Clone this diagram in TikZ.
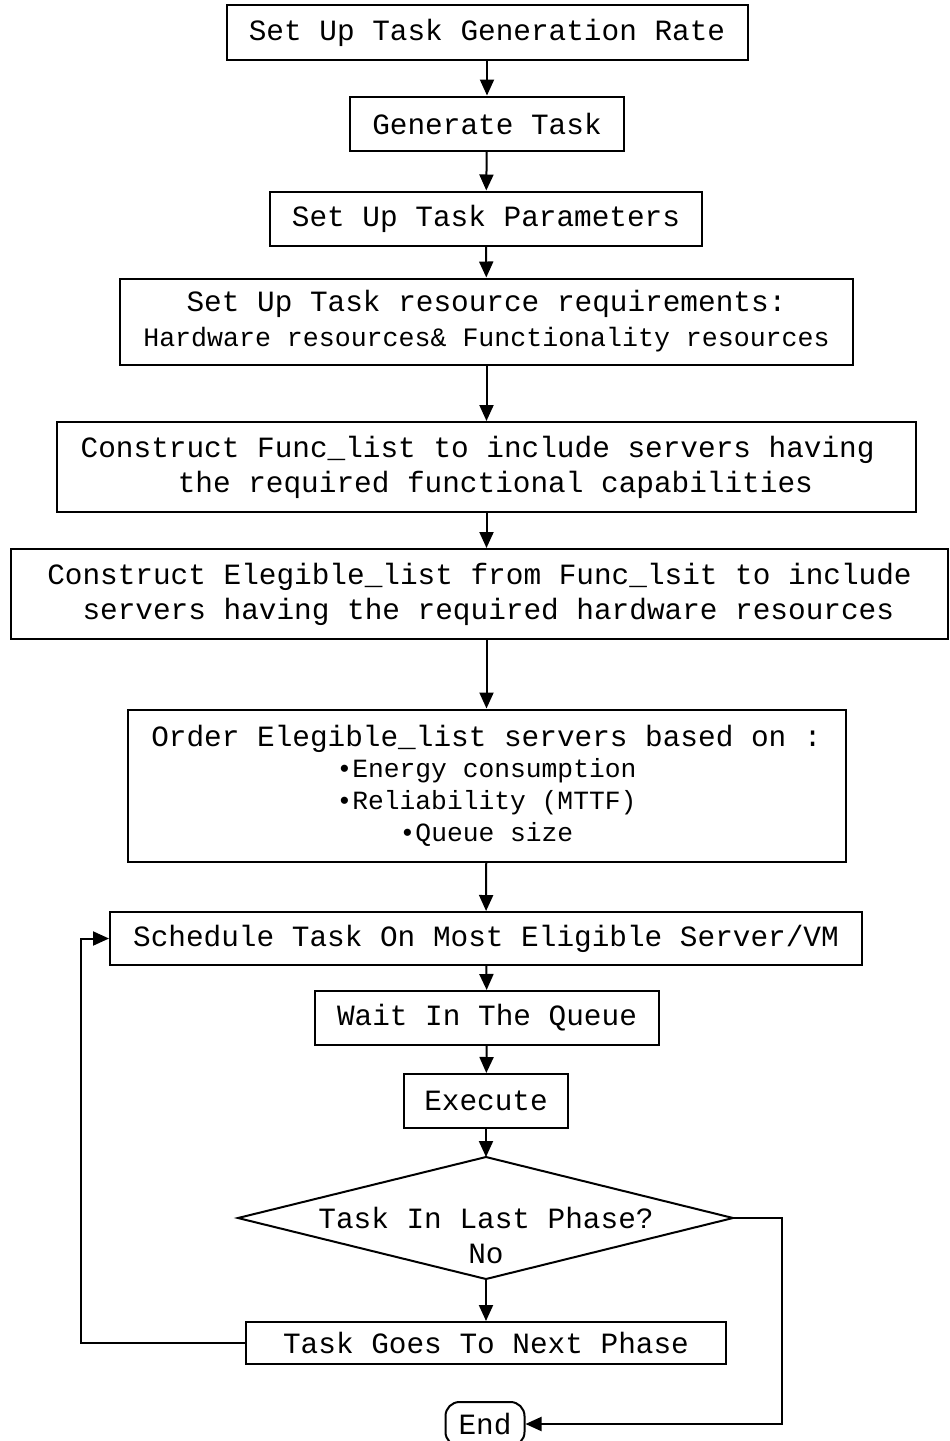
\documentclass[tikz,border=0pt]{standalone}
\usepackage{fontspec}
\setmonofont{Liberation Mono}
\usetikzlibrary{arrows.meta}
\newcommand\mainfnt{\ttfamily\fontsize{29.4}{35}\selectfont}
\newcommand\subfnt{\ttfamily\fontsize{26.6}{35}\selectfont}
\newcommand\listfnt{\ttfamily\fontsize{26.3}{32}\selectfont}
\begin{document}
\begin{tikzpicture}[x=1pt,y=-1pt,
 box/.style={draw,line width=2pt,inner sep=0pt,align=center,font=\mainfnt},
 arr/.style={line width=2pt,-{Triangle[length=16pt,width=14pt]}},
 ln/.style={line width=2pt}]
\useasboundingbox (0,0) rectangle (950,1441);
\fill[white] (0,0) rectangle (950,1441);

\node[box,minimum width=521,minimum height=55] (n1) at (487,32.5) {Set Up Task Generation Rate};
\node[box,minimum width=274,minimum height=54] (n2) at (487,123.5) {Generate Task};
\node[box,minimum width=432,minimum height=54] (n3) at (486,218.5) {Set Up Task Parameters};
\node[box,minimum width=733,minimum height=86,font=\mainfnt] (n4) at (486.5,321.5)
  {Set Up Task resource requirements:\\{\subfnt Hardware resources\& Functionality resources}};
\node[box,minimum width=859,minimum height=90] (n5) at (486.5,467)
  {Construct Func\_list to include servers having\hphantom{x}\\\hphantom{x}the required functional capabilities};
\node[box,minimum width=937,minimum height=90] (n6) at (479.5,594)
  {Construct Elegible\_list from Func\_lsit to include\\\hphantom{x}servers having the required hardware resources};
\node[box,minimum width=718,minimum height=152,font=\listfnt] (n7) at (486.5,785.5)
  {{\mainfnt Order Elegible\_list servers based on :}\\[-1pt]•Energy consumption\\•Reliability (MTTF)\\•Queue size};
\node[box,minimum width=752,minimum height=53] (n8) at (486,938.5) {Schedule Task On Most Eligible Server/VM};
\node[box,minimum width=344,minimum height=54] (n9) at (487,1018) {Wait In The Queue};
\node[box,minimum width=164,minimum height=54] (n10) at (486,1101) {Execute};

\coordinate (dtop) at (486,1157);
\coordinate (dright) at (733,1218);
\coordinate (dbot) at (486,1279);
\coordinate (dleft) at (238,1218);
\draw[ln,line join=miter] (dtop) -- (dright) -- (dbot) -- (dleft) -- cycle;
\node[align=center,font=\mainfnt,inner sep=0pt] (dtext) at (486,1235) {Task In Last Phase?\\No};

\node[box,minimum width=480,minimum height=42] (n12) at (486,1343) {Task Goes To Next Phase};
\node[box,rounded corners=14pt,minimum width=79,minimum height=44] (end) at (485,1424) {\raisebox{-10pt}{End}};

\draw[arr] (n1) -- (n2);
\draw[arr] (n2) -- (n3);
\draw[arr] (n3) -- (n4);
\draw[arr] (n4) -- (n5);
\draw[arr] (n5.south) -- (n5.south |- n6.north);
\draw[arr] (n6.south -| n7.north) -- (n7);
\draw[arr] (n7) -- (n8);
\draw[arr] (n8) -- (n9);
\draw[arr] (n9) -- (n10);
\draw[arr] (n10) -- (dtop);
\draw[arr] (dbot) -- (n12);
\draw[arr] (n12.west) -- ++(-164,0) |- (n8.west);
\draw[arr] (dright) -- ++(49,0) |- (end.east);
\end{tikzpicture}
\end{document}
